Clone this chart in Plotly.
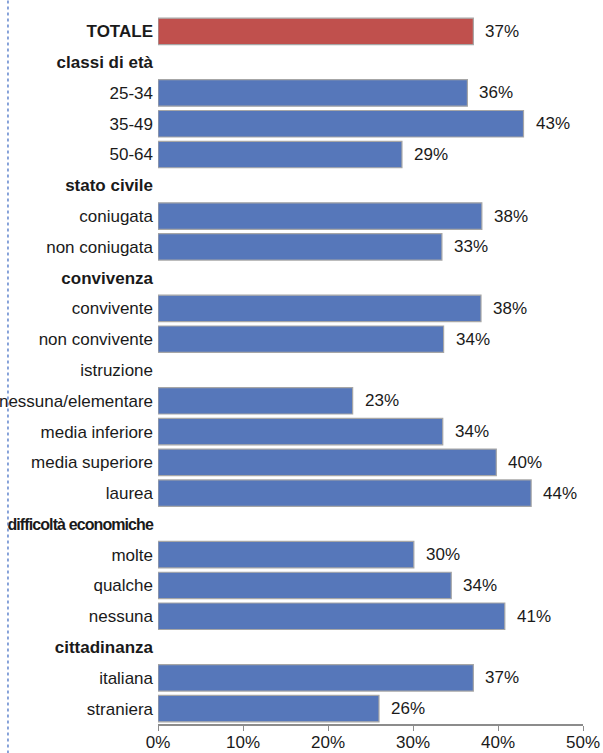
import plotly.graph_objects as go

# Rows of the chart, top to bottom; group headers have no bar
categories = [
    "<b>TOTALE</b>",
    "<b>classi di età</b>",
    "25-34", "35-49", "50-64",
    "<b>stato civile</b>",
    "coniugata", "non coniugata",
    "<b>convivenza</b>",
    "convivente", "non convivente",
    "istruzione",
    "nessuna/elementare", "media inferiore", "media superiore", "laurea",
    "<b><span style=\"font-size:16px;letter-spacing:-0.9px\">difficoltà economiche</span></b>",
    "molte", "qualche", "nessuna",
    "<b>cittadinanza</b>",
    "italiana", "straniera",
]
values = [
    0.371,
    None,
    0.364, 0.430, 0.287,
    None,
    0.381, 0.334,
    None,
    0.380, 0.336,
    None,
    0.229, 0.335, 0.398, 0.439,
    None,
    0.301, 0.345, 0.408,
    None,
    0.371, 0.260,
]
x_ticks = [0, 0.1, 0.2, 0.3, 0.4, 0.5]

BLUE = "#5677BA"
RED = "#C0504D"
FONT = "Liberation Sans Narrow, Arial Narrow, Liberation Sans, sans-serif"
SIZE = 17

colors = [RED] + [BLUE] * (len(categories) - 1)

fig = go.Figure()
fig.add_trace(go.Bar(
    y=categories,
    x=values,
    orientation="h",
    marker=dict(color=colors, line=dict(color="#A6A6A6", width=1.2)),
    width=0.86,
    hoverinfo="skip",
))

# value labels to the right of each bar
for cat, v in zip(categories, values):
    if v is None:
        continue
    fig.add_annotation(
        x=v, y=cat, xref="x", yref="y",
        text=f"{round(v * 100):d}%",
        showarrow=False, xanchor="left", xshift=10,
        font=dict(family=FONT, size=SIZE, color="#1a1a1a"),
    )

# dotted frame line on the left edge
fig.add_shape(
    type="line", xref="paper", yref="paper",
    x0=-0.353, x1=-0.353, y0=-0.05, y1=1.03,
    line=dict(color="#4A74C6", width=1.3, dash="dot"),
)

fig.update_layout(
    width=603, height=753,
    margin=dict(l=158, r=20, t=16, b=29),
    paper_bgcolor="white", plot_bgcolor="white",
    showlegend=False,
    font=dict(family=FONT, size=SIZE, color="#1a1a1a"),
    bargap=0.14,
)
fig.update_xaxes(
    range=[0, 0.5],
    tickvals=x_ticks,
    ticktext=[f"{int(t * 100)}%" for t in x_ticks],
    showgrid=False, zeroline=False,
    showline=True, linecolor="#8C8C8C", linewidth=1.5,
    ticks="outside", ticklen=5, tickcolor="#8C8C8C",
    ticklabelstandoff=-3,
    tickfont=dict(family=FONT, size=SIZE, color="#1a1a1a"),
    automargin=False,
)
fig.update_yaxes(
    type="category",
    categoryorder="array", categoryarray=categories,
    autorange="reversed",
    showgrid=False, zeroline=False, showline=False,
    ticks="", ticklabelstandoff=4,
    tickfont=dict(family=FONT, size=SIZE, color="#1a1a1a"),
    automargin=False,
)

fig.write_html("out.html")
